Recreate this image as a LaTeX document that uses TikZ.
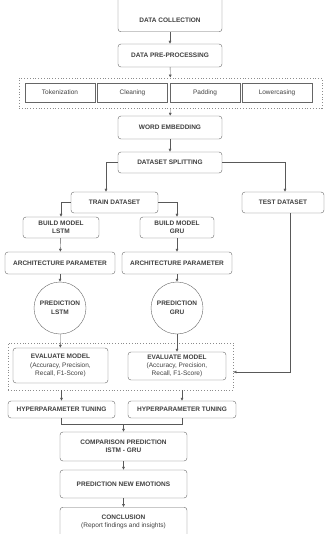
\documentclass[tikz,border=0pt]{standalone}
\usepackage{fontspec}
\setmainfont{Liberation Sans}
\usetikzlibrary{arrows.meta}
\tikzset{
  stage/.style={draw=black!60,rounded corners=3pt,fill=white,text=black!75,
    font=\bfseries\fontsize{6.5}{8.2}\selectfont,align=center,inner sep=0pt},
  part/.style={draw=black!60,fill=white,text=black!75,
    font=\fontsize{6.5}{8}\selectfont,inner sep=0pt,minimum width=70pt,minimum height=19pt},
  pred/.style={circle,draw=black!60,fill=white,text=black!75,
    font=\bfseries\fontsize{6.5}{8.5}\selectfont,align=center,inner sep=0pt,minimum size=52pt},
  group/.style={draw=black!45,dotted,thick,inner sep=0pt},
  flow/.style={draw=black!65,-{Latex[length=3pt,width=3pt]}},
  link/.style={draw=black!65}
}
\begin{document}
\begin{tikzpicture}[x=1pt,y=-1pt]
\useasboundingbox (0,0) rectangle (324,534);
% top column
\node[stage,anchor=south,minimum width=104pt,text height=40pt,text depth=9.5pt] (coll) at (170,32) {DATA COLLECTION};
\node[stage,minimum width=104pt,minimum height=23pt] (prep) at (170,55.5) {DATA PRE-PROCESSING};
\node[group,minimum width=303pt,minimum height=30pt] (grp1) at (170.5,93) {};
\node[part] (tok) at (60,92.5) {Tokenization};
\node[part] (clean) at (132.5,92.5) {Cleaning};
\node[part] (pad) at (205,92.5) {Padding};
\node[part] (lower) at (277,92.5) {Lowercasing};
\node[stage,minimum width=104pt,minimum height=23pt] (embed) at (170,127.5) {WORD EMBEDDING};
\node[stage,minimum width=104pt,minimum height=21pt] (split) at (170,162.5) {DATASET SPLITTING};
\node[stage,minimum width=87pt,minimum height=21pt] (train) at (114.5,202.5) {TRAIN DATASET};
\node[stage,minimum width=82pt,minimum height=21pt] (test) at (283,202.5) {TEST DATASET};
% two models
\node[stage,minimum width=76pt,minimum height=21pt] (blstm) at (61,227.5) {BUILD MODEL\\LSTM};
\node[stage,minimum width=74pt,minimum height=21pt] (bgru) at (177,227.5) {BUILD MODEL\\GRU};
\node[stage,minimum width=110pt,minimum height=22pt] (alstm) at (60,263) {ARCHITECTURE PARAMETER};
\node[stage,minimum width=110pt,minimum height=22pt] (agru) at (177,263) {ARCHITECTURE PARAMETER};
\node[pred] (plstm) at (60,308) {PREDICTION\\LSTM};
\node[pred] (pgru) at (177,308) {PREDICTION\\GRU};
\node[group,minimum width=225pt,minimum height=47pt] (grp2) at (120.5,366.5) {};
\node[stage,minimum width=95pt,minimum height=35pt] (elstm) at (60.5,365.5) {EVALUATE MODEL\\\mdseries(Accuracy, Precision,\\\mdseries Recall, F1-Score)};
\node[stage,minimum width=98pt,minimum height=28pt] (egru) at (177,366) {EVALUATE MODEL\\\mdseries(Accuracy, Precision,\\\mdseries Recall, F1-Score)};
\node[stage,minimum width=107pt,minimum height=17pt] (hlstm) at (61.5,409.5) {HYPERPARAMETER TUNING};
\node[stage,minimum width=108pt,minimum height=17pt] (hgru) at (182,409.5) {HYPERPARAMETER TUNING};
% bottom column
\node[stage,minimum width=127pt,minimum height=29pt] (comp) at (123.5,446.5) {COMPARISON PREDICTION\\ISTM - GRU};
\node[stage,minimum width=127pt,minimum height=28pt] (emo) at (123.5,484) {PREDICTION NEW EMOTIONS};
\node[stage,anchor=north,minimum width=127pt,minimum height=30pt] (concl) at (123.5,507) {CONCLUSION\\\mdseries(Report findings and insights)};
% connectors
\draw[flow] (coll) -- (prep);
\draw[flow] (prep) -- (grp1);
\draw[flow] (grp1) -- (embed);
\draw[flow] (embed) -- (split);
\draw[flow] (split.west) -| ([xshift=-8.5pt]train.north);
\draw[flow] (split.east) -| ([xshift=2pt]test.north);
\draw[flow] (train.west) -| (blstm.north);
\draw[flow] (train.east) -| (bgru.north);
\draw[flow] (blstm) -- (alstm);
\draw[flow] (bgru) -- (agru);
\draw[flow] (alstm) -- (plstm);
\draw[flow] (agru) -- (pgru);
\draw[flow] (plstm) -- (elstm);
\draw[flow] (pgru) -- (egru);
\draw[flow] ([xshift=7pt]test.south) |- ([yshift=-5.5pt]grp2.east);
\draw[flow] (hlstm.north |- grp2.south) -- (hlstm.north);
\draw[flow] (hgru.north |- grp2.south) -- (hgru.north);
\draw[link] (hlstm.south) -- ++(0,6) coordinate (m1) -| (hgru.south);
\draw[flow] (comp.north |- m1) -- (comp.north);
\draw[flow] (comp) -- (emo);
\draw[flow] (emo) -- (concl);
\end{tikzpicture}
\end{document}
